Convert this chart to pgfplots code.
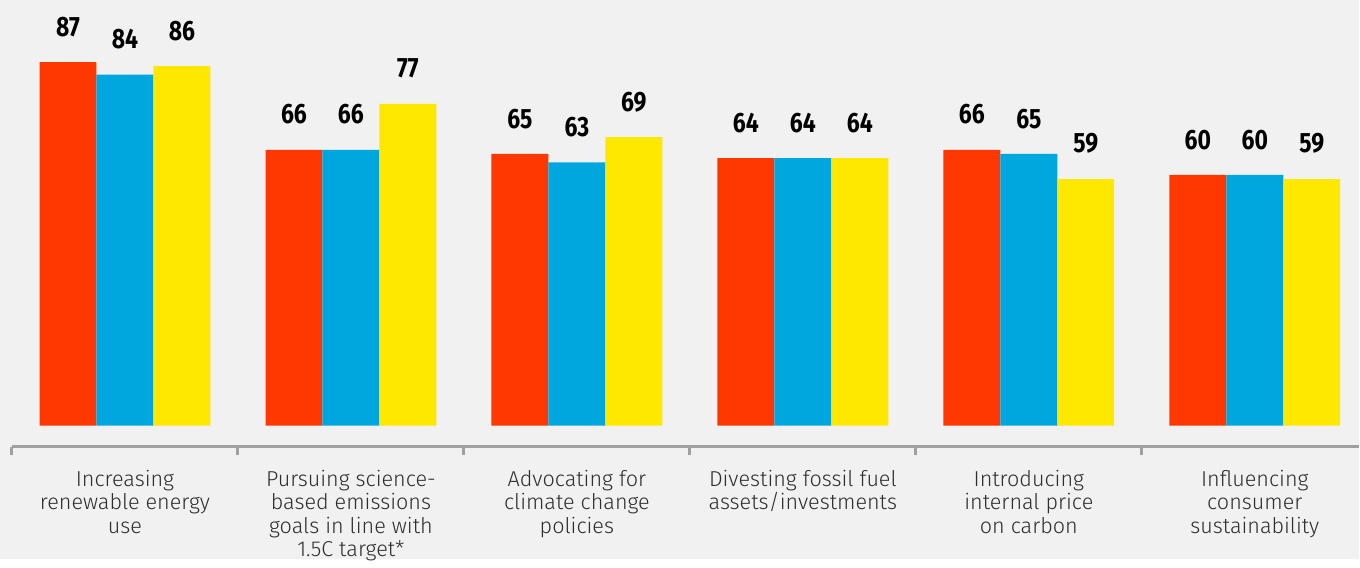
\documentclass[border=0pt]{standalone}
\usepackage{pgfplots}
\pgfplotsset{compat=1.18}
\usepackage{fontspec}
\setmainfont{Fira Sans}[UprightFont={* Light}, BoldFont={* Bold}]
\definecolor{bg}{HTML}{F1F1F1}
\definecolor{cred}{HTML}{FF3700}
\definecolor{cblue}{HTML}{00A6DE}
\definecolor{cyellow}{HTML}{FFE800}
\definecolor{axgray}{HTML}{A0A0A0}
\definecolor{lbl}{HTML}{2E2E2E}
\begin{document}
\begin{tikzpicture}
\fill[bg] (-6pt,-56.5pt) rectangle (674pt,223.5pt);
\begin{axis}[
  at={(0,0)}, anchor=south west,
  x=113.1pt, y=2.092pt,
  xmin=-0.5, xmax=5.459, ymin=-5, ymax=100,
  clip=false,
  /pgf/number format/assume math mode=true,
  ybar, ybar=0pt, bar width=28.5pt,
  axis y line=none,
  axis x line*=bottom,
  x axis line style={axgray, line width=1.5pt, -},
  tick align=outside,
  xtick={0,1,2,3,4,5},
  xticklabels={{Increasing\\renewable energy\\use},{Pursuing science-\\based emissions\\goals in line with\\1.5C target*},{Advocating for\\climate change\\policies},{Divesting fossil fuel\\assets/investments},{Introducing\\internal price\\on carbon},{Influencing\\consumer\\sustainability}},
  major tick length=0pt,
  xticklabel style={align=center, font=\fontsize{10.8}{11.6}\selectfont, text=lbl, yshift=-8.5pt},
  extra x ticks={-0.5,0.5,1.5,2.5,3.5,4.5},
  extra x tick labels={},
  extra x tick style={major tick length=4pt, tick style={axgray, line width=1.5pt}},
  nodes near coords={\scalebox{0.82}[1]{\bfseries\pgfmathprintnumber\pgfplotspointmeta}},
  every node near coord/.append style={anchor=south, inner sep=0pt, yshift=12.5pt, font=\fontsize{14}{14}\selectfont\bfseries, text=black},
]
\addplot[fill=cred, draw=none] coordinates {(0,87) (1,66) (2,65) (3,64) (4,66) (5,60)};
\addplot[fill=cblue, draw=none] coordinates {(0,84) (1,66) (2,63) (3,64) (4,65) (5,60)};
\addplot[fill=cyellow, draw=none] coordinates {(0,86) (1,77) (2,69) (3,64) (4,59) (5,59)};
\end{axis}
\end{tikzpicture}
\end{document}
